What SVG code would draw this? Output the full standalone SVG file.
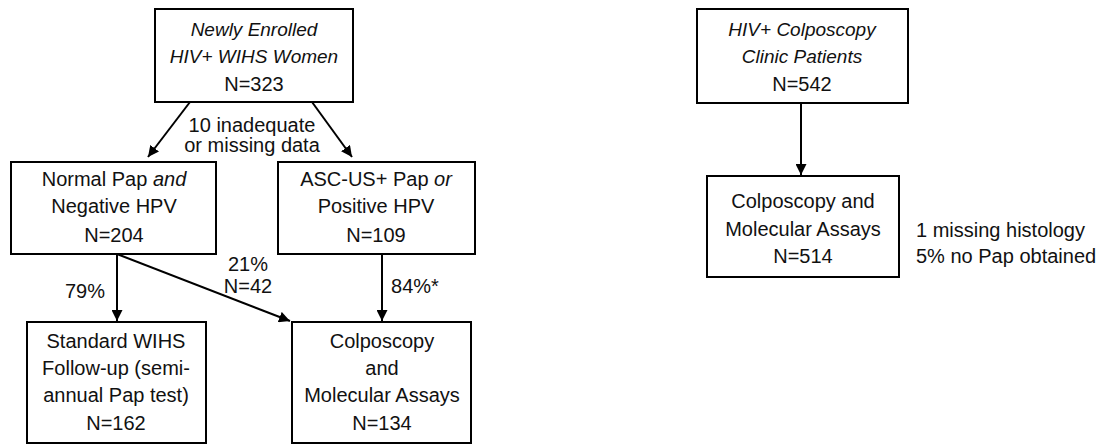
<svg xmlns="http://www.w3.org/2000/svg" width="1103" height="444" viewBox="0 0 1103 444">
<style>
.box{fill:#fff;stroke:#000;stroke-width:2}
text{font-family:"Liberation Sans",Arial,sans-serif;font-size:20px;fill:#111}
.c{text-anchor:middle}
.i{font-style:italic}
.t{font-size:19px}
.ln{stroke:#000;stroke-width:2;fill:none;marker-end:url(#ah)}
</style>
<defs>
<marker id="ah" viewBox="0 0 10 10" refX="10" refY="5" markerWidth="5.5" markerHeight="5.5" orient="auto" markerUnits="strokeWidth">
<path d="M0,0 L10,5 L0,10 z" fill="#000"/>
</marker>
</defs>
<rect width="1103" height="444" fill="#fff"/>
<g id="connectors">
<line class="ln" x1="190" y1="102" x2="148" y2="157"/>
<line class="ln" x1="312" y1="102" x2="352" y2="157"/>
<line class="ln" x1="117" y1="254" x2="117" y2="321"/>
<line class="ln" x1="117" y1="254" x2="290" y2="321"/>
<line class="ln" x1="382" y1="254" x2="382" y2="321"/>
<line class="ln" x1="801" y1="103" x2="801" y2="175"/>
<text class="c" x="252" y="132">10 inadequate</text>
<text class="c" x="252" y="152">or missing data</text>
<text class="c" x="248" y="271">21%</text>
<text class="c" x="248" y="293">N=42</text>
<text class="c" x="85" y="298">79%</text>
<text class="c" x="415" y="293">84%*</text>
</g>
<g id="n1">
<rect class="box" x="155" y="9" width="198" height="93"/>
<text class="c i t" x="254" y="36">Newly Enrolled</text>
<text class="c i t" x="254" y="63">HIV+ WIHS Women</text>
<text class="c" x="254" y="91">N=323</text>
</g>
<g id="n2">
<rect class="box" x="11" y="162" width="205" height="92"/>
<text class="c" x="114" y="186">Normal Pap <tspan class="i">and</tspan></text>
<text class="c" x="114" y="213">Negative HPV</text>
<text class="c" x="114" y="242">N=204</text>
</g>
<g id="n3">
<rect class="box" x="278" y="162" width="197" height="92"/>
<text class="c" x="376" y="186">ASC-US+ Pap <tspan class="i">or</tspan></text>
<text class="c" x="376" y="213">Positive HPV</text>
<text class="c" x="376" y="242">N=109</text>
</g>
<g id="n4">
<rect class="box" x="27" y="322" width="179" height="121"/>
<text class="c" x="116" y="348">Standard WIHS</text>
<text class="c" x="116" y="375">Follow-up (semi-</text>
<text class="c" x="116" y="402">annual Pap test)</text>
<text class="c" x="116" y="430">N=162</text>
</g>
<g id="n5">
<rect class="box" x="292" y="322" width="179" height="121"/>
<text class="c" x="382" y="348">Colposcopy</text>
<text class="c" x="382" y="375">and</text>
<text class="c" x="382" y="402">Molecular Assays</text>
<text class="c" x="382" y="430">N=134</text>
</g>
<g id="n6">
<rect class="box" x="697" y="9" width="211" height="94"/>
<text class="c i t" x="802" y="36">HIV+ Colposcopy</text>
<text class="c i t" x="802" y="63">Clinic Patients</text>
<text class="c" x="802" y="91">N=542</text>
</g>
<g id="n7">
<rect class="box" x="707" y="176" width="192" height="101"/>
<text class="c" x="803" y="208">Colposcopy and</text>
<text class="c" x="803" y="236">Molecular Assays</text>
<text class="c" x="803" y="263">N=514</text>
</g>
<g id="note">
<text x="916" y="237">1 missing histology</text>
<text x="916" y="263">5% no Pap obtained</text>
</g>
</svg>
